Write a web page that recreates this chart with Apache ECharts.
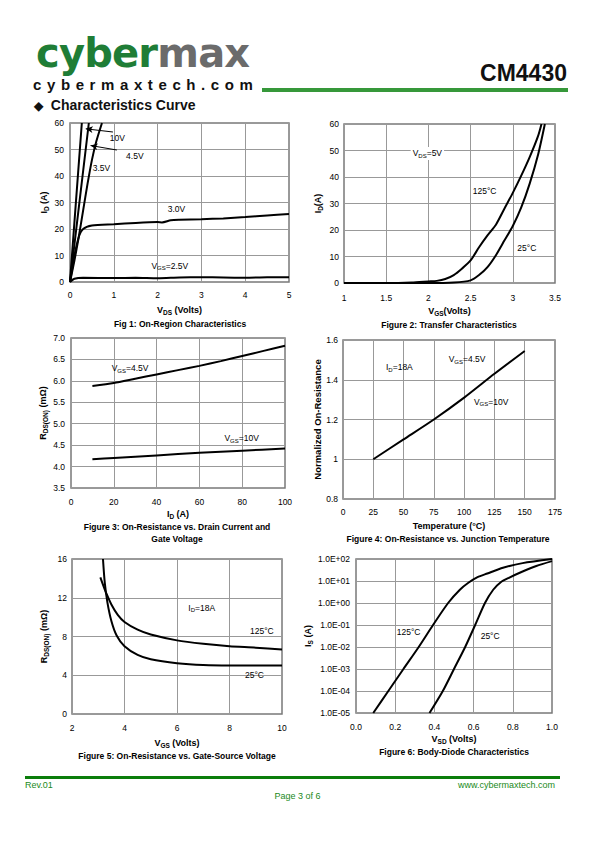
<!DOCTYPE html>
<html><head><meta charset="utf-8">
<script src="https://cdn.jsdelivr.net/npm/echarts@6/dist/echarts.min.js"></script>
<style>
html,body{margin:0;padding:0;background:#fff;}
body{width:595px;height:842px;position:relative;overflow:hidden;font-family:"Liberation Sans",Arial,sans-serif;}
.abs{position:absolute;white-space:nowrap;}
#chart{position:absolute;left:0;top:0;width:595px;height:842px;}
</style></head>
<body>
<div class="abs" style="left:36px;top:33px;font:bold 40px/40px 'DejaVu Sans';letter-spacing:-0.8px;"><span style="color:#1f7d36">cyber</span><span style="color:#6b6b6b">max</span></div>
<div class="abs" style="left:33px;top:77px;font:bold 15px/15px 'Liberation Sans';letter-spacing:5.6px;color:#111">cybermaxtech.com</div>
<div class="abs" style="left:262px;top:88px;width:306px;height:4px;background:#36983a"></div>
<div class="abs" style="right:28px;top:62px;font:bold 23px/23px 'Liberation Sans';color:#111">CM4430</div>
<div class="abs" style="left:34px;top:98px;font:bold 14px/14px 'Liberation Sans';color:#111"><span style="font-size:12px">&#9670;</span>&nbsp; Characteristics Curve</div>
<div class="abs" style="left:25px;top:776px;width:535px;height:2.5px;background:#0b7d0b"></div>
<div class="abs" style="left:25px;top:780px;font:9px/10px 'Liberation Sans';color:#1a8a1a">Rev.01</div>
<div class="abs" style="right:40px;top:780px;font:9px/10px 'Liberation Sans';color:#1a8a1a">www.cybermaxtech.com</div>
<div class="abs" style="left:0;width:595px;text-align:center;top:791px;font:9px/10px 'Liberation Sans';color:#1a8a1a">Page 3 of 6</div>
<div id="chart"></div>
<script>
// ---------- DATA ----------
// Fig 1: On-region characteristics [VDS, ID]
const f1_10V  = [[0,0],[0.13,29],[0.27,60]];
const f1_45V  = [[0,0],[0.2,28],[0.43,60]];
const f1_35V  = [[0,0],[0.1,8],[0.2,17],[0.3,27],[0.4,37],[0.5,46],[0.6,53],[0.73,60]];
const f1_30V  = [[0,0],[0.05,5],[0.1,10],[0.2,17],[0.3,20],[0.5,21.3],[1,21.8],[1.5,22.3],[2,22.6],[2.1,22.5],[2.3,23.3],[2.5,23.5],[3,23.7],[3.5,24],[4,24.5],[4.5,25.1],[5,25.7]];
const f1_25V  = [[0,0],[0.1,1.2],[0.3,1.6],[1,1.5],[1.5,1.6],[2,1.4],[2.5,1.7],[3,1.8],[3.5,1.7],[4,1.6],[4.5,1.8],[5,1.8]];
// Fig 2: Transfer characteristics [VGS, ID]
const f2_125 = [[1,0],[1.5,0],[1.8,0.2],[2,0.6],[2.1,0.8],[2.2,1.5],[2.3,3],[2.4,5.5],[2.5,8.5],[2.6,13.5],[2.7,18],[2.8,22],[2.9,28],[3.0,34],[3.1,40.5],[3.2,47.5],[3.3,55.5],[3.34,60]];
const f2_25  = [[1,0],[2,0],[2.3,0.2],[2.5,1],[2.6,3],[2.7,6],[2.8,10.5],[2.9,16],[3.0,21.5],[3.1,28.5],[3.2,37.5],[3.3,48.5],[3.38,60]];
// Fig 3: RDS(ON) vs ID [ID, mOhm]
const f3_45V = [[10,5.88],[20,5.95],[30,6.05],[40,6.15],[50,6.25],[60,6.35],[70,6.46],[80,6.58],[90,6.7],[100,6.82]];
const f3_10V = [[10,4.17],[20,4.2],[40,4.26],[60,4.32],[80,4.37],[100,4.42]];
// Fig 4: normalized RDS(ON) vs temperature
const f4_line = [[25,1.0],[50,1.1],[75,1.2],[100,1.31],[125,1.43],[150,1.545]];
// Fig 5: RDS(ON) vs VGS
const f5_25  = [[3.18,16],[3.25,13.5],[3.35,11.5],[3.5,9.6],[3.7,8.1],[4,7.0],[4.5,6.1],[5,5.65],[6,5.25],[7,5.05],[8,5.0],[9,5.0],[10,5.0]];
const f5_125 = [[3.08,14.1],[3.2,13.2],[3.3,12.5],[3.5,11.3],[3.75,10.2],[4,9.5],[4.5,8.7],[5,8.2],[6,7.6],[7,7.25],[8,7.0],[9,6.85],[10,6.65]];
// Fig 6: Body diode [VSD, IS]
const f6_125 = [[0.088,1e-5],[0.165,1e-4],[0.242,1e-3],[0.32,1e-2],[0.393,1e-1],[0.47,1],[0.53,4],[0.575,8.5],[0.62,15],[0.67,22],[0.75,40],[0.85,65],[1.0,100]];
const f6_25  = [[0.375,1e-5],[0.443,1e-4],[0.5,1e-3],[0.557,1e-2],[0.608,0.1],[0.658,1],[0.7,4],[0.74,9],[0.78,14],[0.85,27],[0.92,48],[1.0,80]];
const f6_yTicks = {'-5':'1.0E-05','-4':'1.0E-04','-3':'1.0E-03','-2':'1.0E-02','-1':'1.0E-01','0':'1.0E+00','1':'1.0E+01','2':'1.0E+02'};

// ---------- STYLE ----------
const FONT = '"Liberation Sans", Arial, sans-serif';
const RICH = {
  n:{fontFamily:FONT,fontSize:9,fontWeight:'bold',color:'#000'},
  s:{fontFamily:FONT,fontSize:6.5,fontWeight:'bold',color:'#000',padding:[5,0,0,0]},
  t:{fontFamily:FONT,fontSize:8.5,color:'#000'},
  ts:{fontFamily:FONT,fontSize:6,color:'#000',padding:[5,0,0,0]}
};
const grids = [
  {left:70, top:123, width:219, height:159},
  {left:344,top:124, width:211, height:159},
  {left:71, top:338, width:214, height:150},
  {left:343,top:340, width:212, height:159},
  {left:72, top:559, width:210, height:155},
  {left:356,top:559, width:196, height:154}
].map(g=>Object.assign({show:true,borderColor:'#7a7a7a',borderWidth:1.5,backgroundColor:'#fff'},g));

function xAx(i,min,max,interval,name,gap,margin,fmt){
  return {type:'value',gridIndex:i,min,max,interval,name,nameLocation:'middle',nameGap:gap,
    nameTextStyle:{rich:RICH},
    axisLine:{show:false},axisTick:{show:false},
    splitLine:{show:true,lineStyle:{color:'#999',width:1}},
    axisLabel:{fontFamily:FONT,fontSize:8.5,color:'#000',margin,formatter:fmt}};
}
function yAx(i,min,max,interval,name,gap,margin,fmt,extra){
  return Object.assign({type:'value',gridIndex:i,min,max,interval,name,nameLocation:'middle',nameGap:gap,
    nameTextStyle:{rich:RICH},
    axisLine:{show:false},axisTick:{show:false},
    splitLine:{show:true,lineStyle:{color:'#999',width:1}},
    axisLabel:{fontFamily:FONT,fontSize:8.5,color:'#000',margin,formatter:fmt}},extra||{});
}
function ln(i,data,smooth,extra){
  return Object.assign({type:'line',xAxisIndex:i,yAxisIndex:i,data,showSymbol:false,symbol:'none',
    smooth:smooth||false,lineStyle:{color:'#000',width:2},silent:true,animation:false},extra||{});
}
const f1 = v=>v.toFixed(1);

const option = {
  animation:false,
  grid:grids,
  xAxis:[
    xAx(0,0,5,1,'{n|V}{s|DS}{n| (Volts)}',22,8),
    xAx(1,1,3.5,0.5,'{n|V}{s|GS}{n|(Volts)}',22,10),
    xAx(2,0,100,20,'{n|I}{s|D}{n| (A)}',20,9),
    xAx(3,0,175,25,'{n|Temperature (°C)}',22,8),
    xAx(4,2,10,2,'{n|V}{s|GS}{n| (Volts)}',23,9),
    xAx(5,0,1,0.2,'{n|V}{s|SD}{n| (Volts)}',20,9,f1)
  ],
  yAxis:[
    yAx(0,0,60,10,'{n|I}{s|D}{n| (A)}',20,6),
    yAx(1,0,60,10,'{n|I}{s|D}{n|(A)}',20,5),
    yAx(2,3.5,7,0.5,'{n|R}{s|DS(ON)}{n| (mΩ)}',21,6,f1),
    yAx(3,0.8,1.6,0.2,'Normalized On-Resistance',21,5,v=>String(Math.round(v*10)/10),{nameTextStyle:{fontFamily:FONT,fontSize:9.5,fontWeight:'bold',color:'#000'}}),
    yAx(4,0,16,4,'{n|R}{s|DS(ON)}{n| (mΩ)}',22,5),
    {type:'log',logBase:10,gridIndex:5,min:1e-5,max:100,name:'{n|I}{s|S}{n| (A)}',nameLocation:'middle',nameGap:37,
      nameTextStyle:{rich:RICH},axisLine:{show:false},axisTick:{show:false},minorTick:{show:false},
      splitLine:{show:true,lineStyle:{color:'#999',width:1}},
      axisLabel:{fontFamily:FONT,fontSize:8.5,color:'#000',margin:6,
        formatter:v=>f6_yTicks[String(Math.round(Math.log10(v)))]||''}}
  ],
  series:[
    ln(0,f1_10V,false,{markLine:{silent:true,symbol:['arrow','none'],symbolSize:[5,7],label:{show:false},
       lineStyle:{color:'#000',width:1,type:'solid'},
       data:[[{coord:[0.36,57.8]},{coord:[0.98,56.6]}],[{coord:[0.47,51.5]},{coord:[1.07,49.8]}]]}}),
    ln(0,f1_45V,false),
    ln(0,f1_35V,0.25),
    ln(0,f1_30V,0.25),
    ln(0,f1_25V,0.25),
    ln(1,f2_125,0.25),
    ln(1,f2_25,0.25),
    ln(2,f3_45V,0.25),
    ln(2,f3_10V,0.25),
    ln(3,f4_line,0.25),
    ln(4,f5_25,0.25),
    ln(4,f5_125,0.25),
    ln(5,f6_125,0.25),
    ln(5,f6_25,0.25)
  ]
};

// annotations in data coordinates
const annots = [
  [0,[0.91,54.2],'{t|10V}'],
  [0,[1.28,47.5],'{t|4.5V}'],
  [0,[0.52,43.1],'{t|3.5V}'],
  [0,[2.23,27.5],'{t|3.0V}'],
  [0,[1.86,6.2],'{t|V}{ts|GS}{t|=2.5V}'],
  [1,[1.79,48.9],'{t|V}{ts|DS}{t|=5V}',true],
  [1,[2.525,34.7],'{t|125°C}'],
  [1,[3.053,13.3],'{t|25°C}'],
  [2,[19.0,6.29],'{t|V}{ts|GS}{t|=4.5V}'],
  [2,[71.7,4.66],'{t|V}{ts|GS}{t|=10V}'],
  [3,[35.5,1.463],'{t|I}{ts|D}{t|=18A}'],
  [3,[87.2,1.503],'{t|V}{ts|GS}{t|=4.5V}'],
  [3,[108.1,1.29],'{t|V}{ts|GS}{t|=10V}'],
  [4,[6.43,10.97],'{t|I}{ts|D}{t|=18A}'],
  [4,[8.78,8.57],'{t|125°C}'],
  [4,[8.59,4.03],'{t|25°C}'],
  [5,[0.208,0.05],'{t|125°C}'],
  [5,[0.636,0.032],'{t|25°C}']
];
const captions = [
  [180,324,'Fig 1: On-Region Characteristics'],
  [449,325,'Figure 2: Transfer Characteristics'],
  [177,527,'Figure 3: On-Resistance vs. Drain Current and'],
  [177,539,'Gate Voltage'],
  [448,539,'Figure 4: On-Resistance vs. Junction Temperature'],
  [177,756,'Figure 5: On-Resistance vs. Gate-Source Voltage'],
  [454,752,'Figure 6: Body-Diode Characteristics']
];

const chart = echarts.init(document.getElementById('chart'),null,{renderer:'svg',width:595,height:842});
chart.setOption(option);
const gfx = [];
annots.forEach(a=>{
  const p = chart.convertToPixel({gridIndex:a[0]},a[1]);
  gfx.push({type:'text',x:p[0],y:p[1],z:50,silent:true,style:{text:a[2],rich:RICH,textAlign:'left',textVerticalAlign:'middle',
    backgroundColor:a[3]?'#fff':null,padding:a[3]?[1,2]:0}});
});
captions.forEach(c=>{
  gfx.push({type:'text',x:c[0],y:c[1],silent:true,style:{text:c[2],fontFamily:FONT,fontSize:8.5,fontWeight:'bold',fill:'#000',textAlign:'center',textVerticalAlign:'middle'}});
});
chart.setOption({graphic:gfx});
</script>
</body></html>
